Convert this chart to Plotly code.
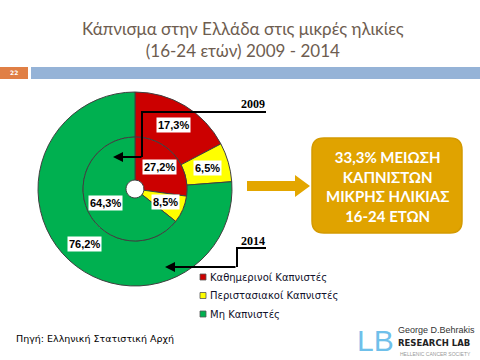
import math
import plotly.graph_objects as go

# ---- data ----
categories = ["Καθημερινοί Καπνιστές", "Περιστασιακοί Καπνιστές", "Μη Καπνιστές"]
values_2009 = [27.2, 8.5, 64.3]
values_2014 = [17.3, 6.5, 76.2]
label_2009 = ["27,2%", "8,5%", "64,3%"]
label_2014 = ["17,3%", "6,5%", "76,2%"]
colors = ["#CC0000", "#FFFF00", "#00B050"]

W, H = 480, 360
cx, cy = 135, 189          # donut centre in px (from top-left)
R_OUT, R_MID, R_HOLE = 97, 52, 9


def px(x):
    return x / W


def py(y):
    return 1 - y / H


fig = go.Figure()

# outer ring: 2014
fig.add_trace(go.Pie(
    labels=categories, values=values_2014, sort=False, direction="clockwise",
    hole=R_MID / R_OUT, textinfo="none", hoverinfo="label+percent",
    marker=dict(colors=colors, line=dict(color="#404040", width=1)),
    domain=dict(x=[px(cx - R_OUT), px(cx + R_OUT)], y=[py(cy + R_OUT), py(cy - R_OUT)]),
    showlegend=False,
))
# inner ring: 2009
fig.add_trace(go.Pie(
    labels=categories, values=values_2009, sort=False, direction="clockwise",
    hole=R_HOLE / R_MID, textinfo="none", hoverinfo="label+percent",
    marker=dict(colors=colors, line=dict(color="#404040", width=1)),
    domain=dict(x=[px(cx - R_MID), px(cx + R_MID)], y=[py(cy + R_MID), py(cy - R_MID)]),
    showlegend=False,
))

annotations = []
shapes = []


def ring_labels(vals, texts, r):
    tot = sum(vals)
    cum = 0
    for v, t in zip(vals, texts):
        mid = (cum + v / 2) / tot * 2 * math.pi
        cum += v
        x = cx + r * math.sin(mid)
        y = cy - r * math.cos(mid)
        annotations.append(dict(
            x=px(x), y=py(y), xref="paper", yref="paper", text="<b>%s</b>" % t,
            showarrow=False, font=dict(family="Liberation Sans", size=11, color="#000000"),
            bgcolor="#FFFFFF", borderpad=1, xanchor="center", yanchor="middle"))


ring_labels(values_2014, label_2014, 75)
ring_labels(values_2009, label_2009, 33)

# manual legend built from categories / colors
for i, (cat, col) in enumerate(zip(categories, colors)):
    yy = 277 + i * 18.5
    shapes.append(dict(type="rect", xref="paper", yref="paper",
                       x0=px(200), x1=px(206), y0=py(yy + 3), y1=py(yy - 3),
                       fillcolor=col, line=dict(color="#555", width=0.8)))
    annotations.append(dict(
        x=px(208), y=py(yy), xref="paper", yref="paper", showarrow=False, text=cat,
        font=dict(family="DejaVu Sans", size=10, color="#10102a"),
        xanchor="left", yanchor="middle"))

# title
annotations.append(dict(
    x=px(243), y=py(39), xref="paper", yref="paper", showarrow=False,
    text="Κάπνισμα στην Ελλάδα στις μικρές ηλικίες<br>(16-24 ετών) 2009 - 2014",
    font=dict(family="Lato", size=17, color="#6E5D50"), align="center",
    xanchor="center", yanchor="middle"))
# slide number
annotations.append(dict(
    x=px(14), y=py(73), xref="paper", yref="paper", showarrow=False, text="<b>22</b>",
    font=dict(family="DejaVu Sans", size=6, color="#FFFFFF"), xanchor="center", yanchor="middle"))

# year labels
for txt, yy in [("2009", 104), ("2014", 241)]:
    annotations.append(dict(
        x=px(253), y=py(yy), xref="paper", yref="paper", showarrow=False,
        text="<b>%s</b>" % txt, font=dict(family="Liberation Serif", size=12, color="#000"),
        xanchor="center", yanchor="middle"))

# black arrows
for tipx, tipy, tail in [(113, 157, 30), (165, 267, 72)]:
    annotations.append(dict(
        x=px(tipx), y=py(tipy), xref="paper", yref="paper", ax=tail, ay=0,
        showarrow=True, arrowhead=2, arrowsize=1, arrowwidth=2, arrowcolor="#000", text=""))

# box text
annotations.append(dict(
    x=px(387), y=py(186), xref="paper", yref="paper", showarrow=False,
    text="<b>33,3% ΜΕΙΩΣΗ<br>ΚΑΠΝΙΣΤΩΝ<br>ΜΙΚΡΗΣ ΗΛΙΚΙΑΣ<br>16-24 ΕΤΩΝ</b>",
    font=dict(family="Lato", size=15, color="#FFFFFF"), align="center",
    xanchor="center", yanchor="middle"))

# source
annotations.append(dict(
    x=px(14), y=py(338), xref="paper", yref="paper", showarrow=False,
    text="Πηγή: Ελληνική Στατιστική Αρχή",
    font=dict(family="DejaVu Sans", size=9.5, color="#000"), xanchor="left", yanchor="middle"))

# logo
annotations.append(dict(
    x=px(375), y=py(340), xref="paper", yref="paper", showarrow=False, text="LB",
    font=dict(family="Liberation Sans", size=30, color="#6FC0EA"), xanchor="center", yanchor="middle"))
annotations.append(dict(
    x=px(397), y=py(330), xref="paper", yref="paper", showarrow=False, text="George D.Behrakis",
    font=dict(family="Liberation Sans", size=9, color="#333"), xanchor="left", yanchor="middle",
    borderpad=0))
annotations.append(dict(
    x=px(397), y=py(343), xref="paper", yref="paper", showarrow=False, text="<b>RESEARCH LAB</b>",
    font=dict(family="DejaVu Sans", size=8.5, color="#222"), xanchor="left", yanchor="middle",
    borderpad=0))
annotations.append(dict(
    x=px(398), y=py(354), xref="paper", yref="paper", showarrow=False, text="HELLENIC CANCER SOCIETY",
    font=dict(family="Liberation Sans", size=5, color="#999"), xanchor="left", yanchor="middle"))

shapes += [
    # slide number box & blue bar
    dict(type="rect", xref="paper", yref="paper", x0=0, x1=px(28), y0=py(79), y1=py(67),
         fillcolor="#E07F45", line=dict(width=0)),
    dict(type="rect", xref="paper", yref="paper", x0=px(31), x1=1, y0=py(79), y1=py(67),
         fillcolor="#95B3D7", line=dict(width=0)),
    # 2009 leader
    dict(type="path", xref="paper", yref="paper",
         path="M %f %f L %f %f L %f %f" % (px(266), py(112), px(142), py(112), px(142), py(157)),
         line=dict(color="#000", width=2)),
    # 2014 leader
    dict(type="path", xref="paper", yref="paper",
         path="M %f %f L %f %f L %f %f" % (px(266), py(248), px(237), py(248), px(237), py(267)),
         line=dict(color="#000", width=2)),
    # orange arrow
    dict(type="path", xref="paper", yref="paper",
         path="M %f %f L %f %f L %f %f L %f %f L %f %f L %f %f L %f %f Z" % (
             px(247), py(181), px(295), py(181), px(295), py(175), px(310), py(186),
             px(295), py(197), px(295), py(191), px(247), py(191)),
         fillcolor="#E3A600", line=dict(width=0)),
]

# rounded box
x0, x1, y0, y1, r = 312, 462, 138, 233, 12
path = ("M %f %f L %f %f Q %f %f %f %f L %f %f Q %f %f %f %f L %f %f Q %f %f %f %f L %f %f Q %f %f %f %f Z" % (
    px(x0 + r), py(y0), px(x1 - r), py(y0), px(x1), py(y0), px(x1), py(y0 + r),
    px(x1), py(y1 - r), px(x1), py(y1), px(x1 - r), py(y1),
    px(x0 + r), py(y1), px(x0), py(y1), px(x0), py(y1 - r),
    px(x0), py(y0 + r), px(x0), py(y0), px(x0 + r), py(y0)))
shapes.append(dict(type="path", xref="paper", yref="paper", path=path,
                   fillcolor="#E0A300", line=dict(color="#D49A00", width=1.5)))

fig.update_layout(
    width=W, height=H, margin=dict(l=0, r=0, t=0, b=0),
    paper_bgcolor="#FFFFFF", plot_bgcolor="#FFFFFF",
    annotations=annotations, shapes=shapes, showlegend=False,
)

fig.write_html("out.html", config={"displayModeBar": False},
               post_script="document.body.style.margin='0';document.body.style.overflow='hidden';")
